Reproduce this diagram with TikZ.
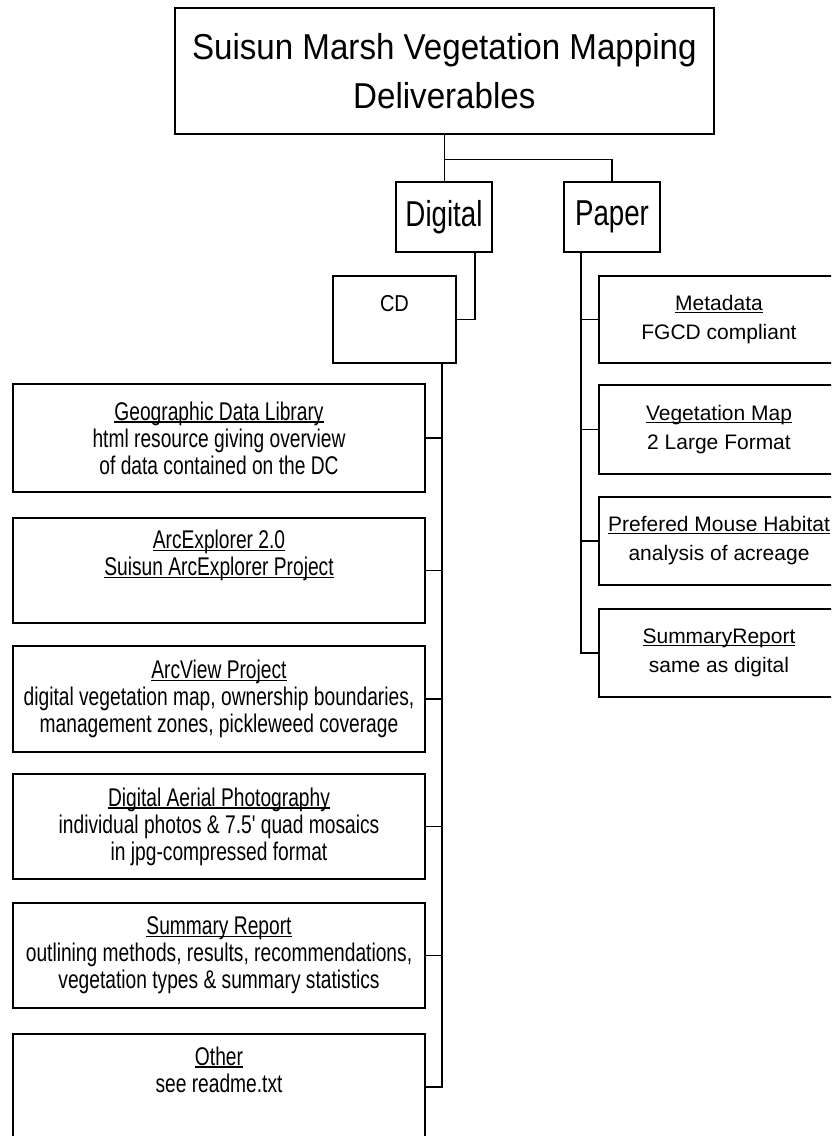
\documentclass[tikz,border=0pt]{standalone}
\usepackage{fontspec}
\setmainfont{Liberation Sans}
\newfontfamily\titlefont{Liberation Sans}[FakeStretch=0.92]
\newfontfamily\midfont{Liberation Sans}[FakeStretch=0.77]
\newfontfamily\cdfont{Liberation Sans}[FakeStretch=0.87]
\newfontfamily\leftfont{Liberation Sans}[FakeStretch=0.75]
\newfontfamily\rightfont{Liberation Sans}
\newcommand{\myul}[1]{\setbox0\hbox{#1}\rlap{\rule[-2.4pt]{\wd0}{1.3pt}}\box0}
\begin{document}
\begin{tikzpicture}[x=1pt,y=-1pt,
  box/.style={draw=black, line width=1.7pt, rectangle, inner sep=0pt, align=center, fill=white},
  titlebox/.style={box, minimum width=539pt, minimum height=126pt, font=\titlefont\fontsize{36}{49}\selectfont},
  midbox/.style={box, minimum width=96pt, minimum height=70pt, font=\midfont\fontsize{36}{44}\selectfont},
  cdbox/.style={box, minimum width=123pt, minimum height=87pt, font=\cdfont\fontsize{23}{32}\selectfont},
  leftbox/.style={box, minimum width=412pt, font=\leftfont\fontsize{25.6}{27}\selectfont},
  rightbox/.style={box, minimum width=240pt, font=\rightfont\fontsize{21}{29}\selectfont},
  link/.style={draw=black, line width=1.5pt}
]
\useasboundingbox (0,0) rectangle (831,1136);
\clip (0,0) rectangle (831,1136);
\fill[white] (0,0) rectangle (831,1136);

% top level
\node[titlebox] (title) at (444.3,71) {Suisun Marsh Vegetation Mapping\\Deliverables};
\node[midbox] (dig) at (444,217) {Digital};
\node[midbox] (paper) at (612,217) {Paper};
\node[cdbox] (cd) at (394.5,319.5) {CD\\\mbox{}};

% digital column
\node[leftbox, minimum height=108pt] (gdl) at (219,438) {\myul{Geographic Data Library}\\html resource giving overview\\of data contained on the DC};
\node[leftbox, minimum height=105pt] (arcex) at (219,570.5) {\myul{ArcExplorer 2.0}\\\myul{Suisun ArcExplorer Project}\\\strut};
\node[leftbox, minimum height=106pt] (arcview) at (219,699) {\myul{ArcView Project}\\digital vegetation map, ownership boundaries,\\management zones, pickleweed coverage};
\node[leftbox, minimum height=105pt] (aerial) at (219,826.5) {\myul{Digital Aerial Photography}\\individual photos \& 7.5' quad mosaics\\in jpg-compressed format};
\node[leftbox, minimum height=105pt] (dsum) at (219,955.5) {\myul{Summary Report}\\outlining methods, results, recommendations,\\vegetation types \& summary statistics};
\node[leftbox, minimum height=106pt] (other) at (219,1087) {\myul{Other}\\see readme.txt\\\strut};

% paper column
\node[rightbox, minimum height=87pt] (meta) at (719,319.5) {\myul{Metadata}\\FGCD compliant};
\node[rightbox, minimum height=89pt] (vmap) at (719,429.5) {\myul{Vegetation Map}\\2 Large Format};
\node[rightbox, minimum height=88pt] (mouse) at (719,541) {\myul{Prefered Mouse Habitat}\\analysis of acreage};
\node[rightbox, minimum height=88pt] (psum) at (719,653) {\myul{SummaryReport}\\same as digital};

% connector guides
\coordinate (hy) at (0,159.5);
\coordinate (dl) at (475,0);
\coordinate (tl) at (442,0);
\coordinate (tr) at (581,0);

% connectors
\draw[link] (title.south) -- (title.south |- dig.north);
\draw[link] (title.south |- hy) -| (paper.north);
\draw[link] (dig.south -| dl) |- (cd.east);
\draw[link] (cd.south -| tl) |- (other.east);
\draw[link] (gdl.east) -- (gdl.east -| tl);
\draw[link] (arcex.east) -- (arcex.east -| tl);
\draw[link] (arcview.east) -- (arcview.east -| tl);
\draw[link] (aerial.east) -- (aerial.east -| tl);
\draw[link] (dsum.east) -- (dsum.east -| tl);
\draw[link] (paper.south -| tr) |- (psum.west);
\draw[link] (meta.west) -- (meta.west -| tr);
\draw[link] (vmap.west) -- (vmap.west -| tr);
\draw[link] (mouse.west) -- (mouse.west -| tr);
\end{tikzpicture}
\end{document}
